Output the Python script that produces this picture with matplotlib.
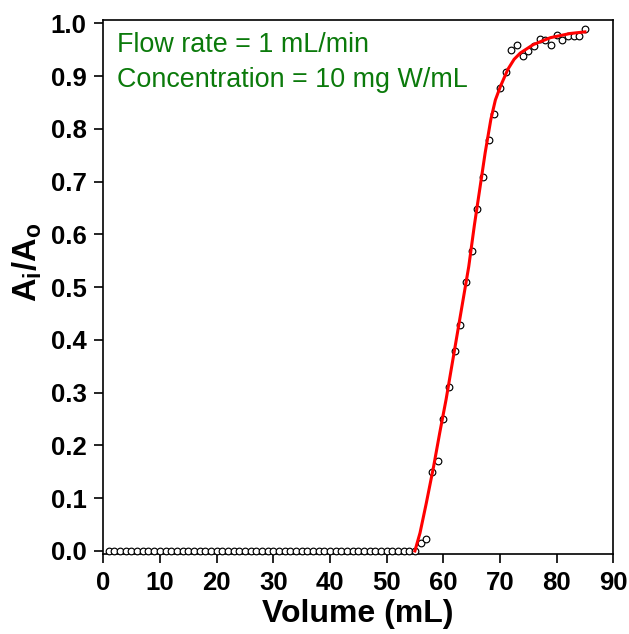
import matplotlib
matplotlib.use("Agg")
import matplotlib.pyplot as plt
import numpy as np

plt.rcParams["font.family"] = ["Liberation Sans", "DejaVu Sans"]
plt.rcParams["mathtext.fontset"] = "custom"
plt.rcParams["mathtext.rm"] = "Liberation Sans:bold"
plt.rcParams["mathtext.default"] = "rm"

# %% Dados medidos (volume em mL, Ai/Ao)
vol_zero = list(range(1, 56))
ratio_zero = [0.0] * len(vol_zero)
vol_rise = [56, 57, 58, 59, 60, 61, 62, 63, 64, 65, 66, 67, 68, 69, 70,
            71, 72, 73, 74, 75, 76, 77, 78, 79, 80, 81, 82, 83, 84, 85]
ratio_rise = [0.015, 0.023, 0.15, 0.171, 0.25, 0.31, 0.38, 0.429, 0.51, 0.569,
              0.649, 0.709, 0.779, 0.829, 0.878, 0.908, 0.949, 0.959, 0.939, 0.947,
              0.958, 0.970, 0.968, 0.959, 0.979, 0.968, 0.977, 0.977, 0.977, 0.989]
volume = vol_zero + vol_rise
ratio = ratio_zero + ratio_rise

# %% Curva ajustada
fit_vol = [55.0, 55.9, 57.0, 58.3, 59.4, 60.5, 61.5, 62.5, 63.5, 64.5, 65.5,
           66.5, 67.4, 68.4, 69.2, 70.1, 71.4, 72.5, 73.6, 75.9, 78.9, 82.4, 85.0]
fit_ratio = [0.0, 0.034, 0.09, 0.16, 0.225, 0.287, 0.35, 0.413, 0.476, 0.539, 0.618,
             0.69, 0.755, 0.818, 0.855, 0.881, 0.913, 0.932, 0.944, 0.960, 0.973, 0.981, 0.984]

# %% Gráfico
fig = plt.figure(figsize=(6.29, 6.34), dpi=100)
ax = fig.add_axes([0.164, 0.126, 0.811, 0.842])

ax.plot(volume, ratio, "o", ms=4.8, mfc="white", mec="black", mew=0.85,
        clip_on=False, zorder=3)
ax.plot(fit_vol, fit_ratio, color="red", lw=2.2, zorder=4)

ax.set_xlim(0, 90)
ax.set_ylim(-0.006, 1.006)
ax.set_xticks(np.arange(0, 91, 10))
ax.set_yticks(np.arange(0, 1.01, 0.1))
ax.set_yticklabels([f"{v:.1f}" for v in np.arange(0, 1.01, 0.1)])

for s in ax.spines.values():
    s.set_linewidth(1.2)
ax.tick_params(direction="out", length=6.5, width=1.2, labelsize=18.5, pad=5.5)
for lab in ax.get_xticklabels() + ax.get_yticklabels():
    lab.set_fontweight("bold")

ax.set_xlabel("Volume (mL)", fontsize=23, fontweight="bold", labelpad=3)
ax.set_ylabel(r"$A_i/A_o$", fontsize=23.5)
ax.yaxis.set_label_coords(-0.116, 0.547)

ax.text(0.028, 0.953, "Flow rate = 1 mL/min", transform=ax.transAxes,
        ha="left", va="center", fontsize=19.4, color="#0b7a0b")
ax.text(0.028, 0.889, "Concentration = 10 mg W/mL", transform=ax.transAxes,
        ha="left", va="center", fontsize=19.4, color="#0b7a0b")

fig.savefig("out.png", dpi=100)
